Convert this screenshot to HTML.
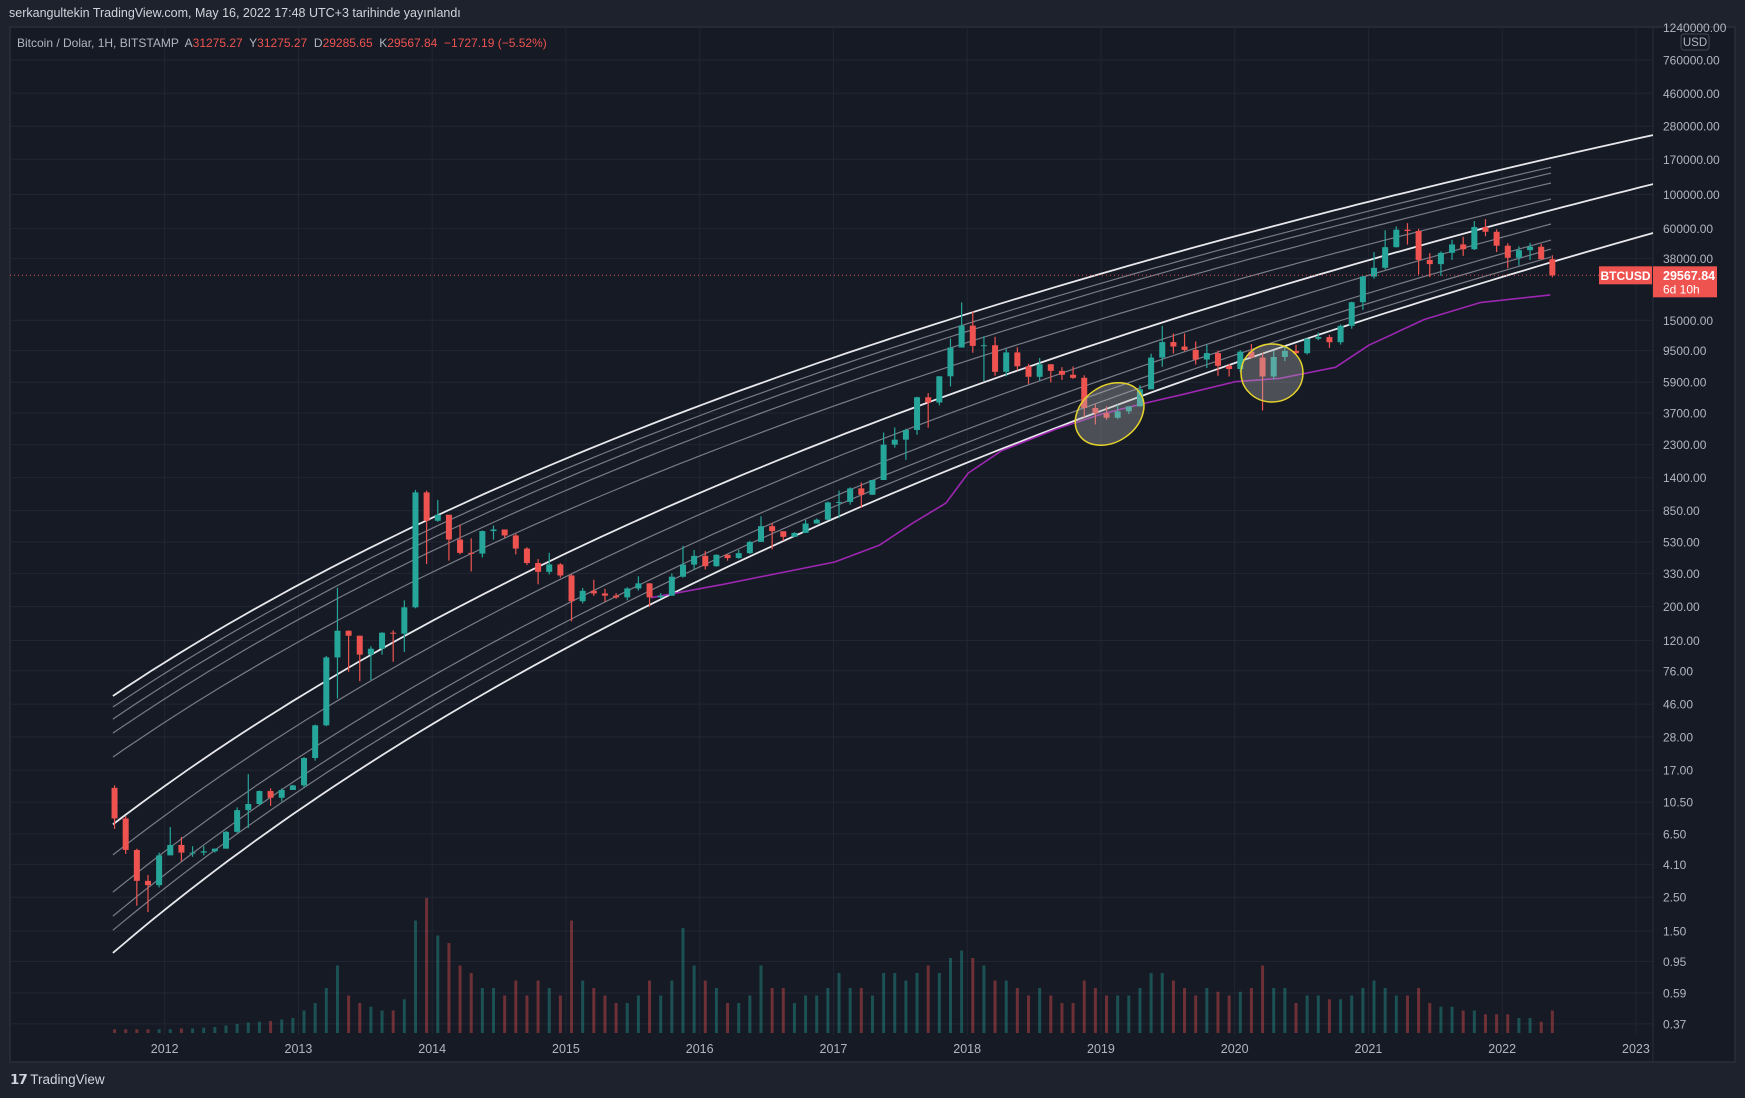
<!DOCTYPE html>
<html><head><meta charset="utf-8">
<style>
html,body{margin:0;padding:0;background:#1e222d;width:1745px;height:1098px;overflow:hidden;font-family:"Liberation Sans",sans-serif;}
#hdr{position:absolute;left:9px;top:6px;color:#d1d4dc;font-size:12.5px;}
#logo{position:absolute;left:10px;top:1072px;color:#d1d4dc;font-size:13.5px;}
svg{position:absolute;left:0;top:0;}
</style></head>
<body>
<div id="hdr">serkangultekin TradingView.com, May 16, 2022 17:48 UTC+3 tarihinde yayınlandı</div>
<svg id="chart" width="1745" height="1098"></svg>
<div id="logo"><b style="letter-spacing:-1px">𝟭𝟳</b> TradingView</div>
<script>
// ---- data ----
const startYear = 2011 + 7/12; // Aug 2011
const firstOpen = 13;
const closes = [8.2,5.1,3.2,3.0,4.7,
5.5,4.9,4.9,5.0,5.2,6.7,9.3,10.2,12.4,11.2,12.6,13.5,
20.4,33.4,93,139,129,97,106,135,133,198,1120,730,
800,550,450,445,625,640,585,480,386,338,378,320,
217,254,244,236,230,263,284,230,236,314,377,430,
368,437,416,448,531,673,624,573,608,700,742,963,
970,1190,1080,1350,2300,2480,2870,4700,4340,6450,9950,13850,
10200,10300,6900,9240,7500,6400,7730,7000,6600,6300,4000,3700,
3450,3800,4100,5300,8550,10800,10100,9600,8300,9150,7550,7200,
9350,8550,6430,8630,9450,9140,11350,11650,10780,13800,19700,29000,
33100,45200,58800,57700,37300,35000,41500,47100,43800,61300,57000,46200,
38500,43200,45500,37700,29567.84];
const highs = [13.5,8.5,5.2,3.5,4.9,
7.2,6.2,5.4,5.4,5.2,6.8,9.7,16,12.5,12.9,12.9,13.6,
20.7,33.8,95,266,140,129,110,136,140,220,1163,1150,
1000,700,690,560,630,680,640,600,490,410,450,385,
325,265,300,262,245,268,316,286,245,330,500,470,
462,440,440,470,540,780,705,620,615,740,755,975,
1150,1210,1300,1350,2760,2980,2920,4740,5000,6470,11400,19660,
17200,11790,11700,9750,9990,7770,8500,7750,7400,7480,6550,4230,
4100,4200,4100,5640,9070,13800,12300,12300,10900,10370,9500,7750,
9570,10500,9190,9450,10070,10400,11450,12470,12050,14100,19900,29300,
41950,58350,61800,64900,59600,41300,42400,50500,52900,67000,69000,59100,
48000,45800,48200,47400,40000];
const lows = [7.0,4.8,2.2,2.0,2.9,
4.8,4.3,4.6,4.7,4.9,5.2,6.6,7.1,10.0,9.9,10.6,12.9,
13,19.6,33,50,75,65,66,97,87,101,195,380,
720,400,440,340,420,550,565,440,375,280,325,310,
160,210,235,215,225,220,255,200,225,235,310,350,
350,365,400,412,442,530,475,540,590,608,700,737,
760,930,890,1080,1350,2200,1830,2670,2970,4160,5540,10900,
9200,6000,6500,6450,7060,5750,6050,5880,6100,6200,3480,3120,
3350,3380,3650,4080,5350,7450,9100,9400,7700,7300,6500,6430,
6850,8450,3850,6150,8110,8900,8950,11100,9900,10400,13200,17550,
28100,32300,44950,47000,30000,28800,29300,37300,39600,43300,53300,42000,
32900,34300,37200,37600,28700];
const volumes = [5,5,5,5,5,
5,6,6,7,8,10,12,14,15,16,18,20,
30,40,60,90,50,40,35,30,30,45,150,180,
130,120,90,80,60,60,50,70,50,70,60,50,
150,70,60,50,40,40,50,70,50,70,140,90,
70,60,40,40,50,90,60,60,40,50,50,60,
80,60,60,50,80,80,70,80,90,80,100,110,
100,90,70,70,60,50,60,50,40,40,70,60,
50,50,50,60,80,80,70,60,50,60,55,50,
55,60,90,60,60,40,50,50,45,45,50,60,
70,60,50,50,60,40,35,35,30,30,25,25,
25,20,20,15,30];
const channelLeftPrice  = [52,44,36.7,29.7,20.7,7.5,4.73,2.70,1.88,1.52,1.08];
const channelRightPrice = [245000,151000,138000,119000,93400,117000,64100,50300,43900,39000,56000];
const channelEndYear    = [2023.128,2022.365,2022.365,2022.365,2022.365,2023.128,2022.365,2022.365,2022.365,2022.365,2023.128];
const maYears  = [2015.636,2016.177,2017.009,2017.342,2017.592,2017.841,2018.008,2018.257,2018.673,2019.006,2019.339,2019.589,2020.004,2020.337,2020.754,2021.003,2021.419,2021.835,2022.360];
const maValues = [229,280,392,504,704,953,1500,2100,2930,3650,4320,4850,5940,6250,7390,10300,15200,19600,22000];
const priceTicks = ["1240000.00","760000.00","460000.00","280000.00","170000.00","100000.00","60000.00","38000.00","15000.00","9500.00","5900.00","3700.00","2300.00","1400.00","850.00","530.00","330.00","200.00","120.00","76.00","46.00","28.00","17.00","10.50","6.50","4.10","2.50","1.50","0.95","0.59","0.37"];
const yearTicks = [2012,2013,2014,2015,2016,2017,2018,2019,2020,2021,2022,2023];
const lastPrice = 29567.84;

// ---- axes ----
const X0=164.7, PXY=133.75, Y0=60, PXD=152.7, LOGTOP=Math.log10(760000);
const xS = t => X0 + (t-2012)*PXY;
const yS = p => Y0 + (LOGTOP - Math.log10(p))*PXD;
const volBase = 1033, volScale = 150/200;
const PL=10, PR=1653, PT=27, PB=1035;

const NS="http://www.w3.org/2000/svg";
const svg=document.getElementById('chart');
function mk(tag,attrs,parent){const e=document.createElementNS(NS,tag);for(const k in attrs)e.setAttribute(k,attrs[k]);(parent||svg).appendChild(e);return e;}

const panel=mk('rect',{x:PL,y:PT,width:1735-PL,height:1062-PT,fill:'#161a25',stroke:'#2a2e39','stroke-width':1.5});


const clip=mk('clipPath',{id:'plotclip'});mk('rect',{x:PL,y:PT,width:PR-PL,height:PB-PT},clip);

const grid=mk('g',{stroke:'#222633','stroke-width':1});


priceTicks.forEach(s=>{const y=yS(parseFloat(s));if(y>PT+2&&y<PB)mk('line',{x1:PL,x2:PR,y1:y,y2:y},grid);});
yearTicks.forEach(yr=>{const x=xS(yr);mk('line',{x1:x,x2:x,y1:PT,y2:PB},grid);});
mk('line',{x1:PR,x2:PR,y1:PT,y2:1062,stroke:'#2a2e39'});

const plot=mk('g',{'clip-path':'url(#plotclip)'});
const volG=mk('g',{},plot);


closes.forEach((c,i)=>{
  const o=i?closes[i-1]:firstOpen;const t=startYear+i/12+1/24;const h=volumes[i]*volScale;
  const b=mk('rect',{x:xS(t)-1.5,y:volBase-h,width:3,height:h,fill:c>=o?'#26a69a':'#ef5350',opacity:0.4},volG);
  
  
});
const chG=mk('g',{fill:'none'},plot);


const boldIdx=[0,5,10];const tL=2011.613,T0=2006;
channelLeftPrice.forEach((pl,i)=>{
  const pr=channelRightPrice[i],tr=channelEndYear[i];
  const ul=Math.log10(tL-T0),ur=Math.log10(tr-T0),al=Math.log10(pl),ar=Math.log10(pr);
  let d='';for(let k=0;k<=120;k++){const t=tL+(tr-tL)*k/120;const lp=al+(ar-al)*(Math.log10(t-T0)-ul)/(ur-ul);d+=(k?'L':'M')+xS(t).toFixed(1)+','+yS(Math.pow(10,lp)).toFixed(1);}
  const bold=boldIdx.includes(i);
  const p=mk('path',{d,stroke:bold?'#e8e8ec':'#8a8d96','stroke-width':bold?1.8:1.2,opacity:bold?1:0.85},chG);
  
  
});
let md='';maYears.forEach((t,i)=>{md+=(i?'L':'M')+xS(t).toFixed(1)+','+yS(maValues[i]).toFixed(1);});
const ma=mk('path',{d:md,fill:'none',stroke:'#9c27b0','stroke-width':1.6,'stroke-linejoin':'round'},plot);


const cG=mk('g',{},plot);


closes.forEach((c,i)=>{
  const o=i?closes[i-1]:firstOpen;const t=startYear+i/12+1/24;const x=xS(t);const col=c>=o?'#26a69a':'#ef5350';
  mk('line',{x1:x,x2:x,y1:yS(highs[i]),y2:yS(lows[i]),stroke:col,'stroke-width':1.2},cG);
  const y1=yS(Math.max(o,c)),y2=yS(Math.min(o,c));
  const r=mk('rect',{x:x-3,y:y1,width:6,height:Math.max(1,y2-y1),fill:col},cG);
  
  
});
[[1109.6,414,37,28,-35],[1272,373,31,29,0]].forEach(e=>{
  const el=mk('ellipse',{cx:e[0],cy:e[1],rx:e[2],ry:e[3],transform:`rotate(${e[4]} ${e[0]} ${e[1]})`,fill:'rgba(180,180,180,0.35)',stroke:'#e6d32a','stroke-width':1.5},plot);
  
  
});
const ly=yS(lastPrice);
mk('line',{x1:PL,x2:PR,y1:ly,y2:ly,stroke:'#ef5350','stroke-width':1,'stroke-dasharray':'1 3'});

const pa=mk('g',{fill:'#b2b5be','font-size':'12px','font-family':'Liberation Sans, sans-serif'});


priceTicks.forEach(s=>{const y=yS(parseFloat(s));const t=mk('text',{x:1663,y:y+4.5},pa);t.textContent=s;});
const usd=mk('rect',{x:1681,y:34,width:28,height:16,rx:3,fill:'#161a25',stroke:'#434651'});


const ut=mk('text',{x:1695,y:46,'text-anchor':'middle',fill:'#b2b5be','font-size':'11.5px'});ut.textContent='USD';
const xa=mk('g',{fill:'#b2b5be','font-size':'12.5px','text-anchor':'middle'});


yearTicks.forEach(yr=>{const t=mk('text',{x:xS(yr),y:1053},xa);t.textContent=yr;});
const tg=mk('rect',{x:1599,y:ly-9,width:53,height:18,fill:'#ef5350'});


const tgt=mk('text',{x:1625.5,y:ly+4.5,'text-anchor':'middle',fill:'#fff','font-size':'12px','font-weight':'bold'});tgt.textContent='BTCUSD';
const pb=mk('rect',{x:1653,y:ly-9,width:64,height:31,fill:'#ef5350'});


const pt1=mk('text',{x:1663,y:ly+4.5,fill:'#fff','font-size':'12.5px','font-weight':'bold'});pt1.textContent='29567.84';
const pt2=mk('text',{x:1663,y:ly+18,fill:'#fff','font-size':'12px'});pt2.textContent='6d 10h';
const lg=mk('text',{x:17,y:47,'font-size':'12px',fill:'#b2b5be'});


const parts=[['Bitcoin / Dolar, 1H, BITSTAMP  ','#b2b5be'],['A','#b2b5be'],['31275.27  ','#ef5350'],['Y','#b2b5be'],['31275.27  ','#ef5350'],['D','#b2b5be'],['29285.65  ','#ef5350'],['K','#b2b5be'],['29567.84  ','#ef5350'],['−1727.19 (−5.52%)','#ef5350']];
parts.forEach(p=>{const s=mk('tspan',{fill:p[1]},lg);s.textContent=p[0];});
lg.style.whiteSpace='pre';
</script>
</body></html>
